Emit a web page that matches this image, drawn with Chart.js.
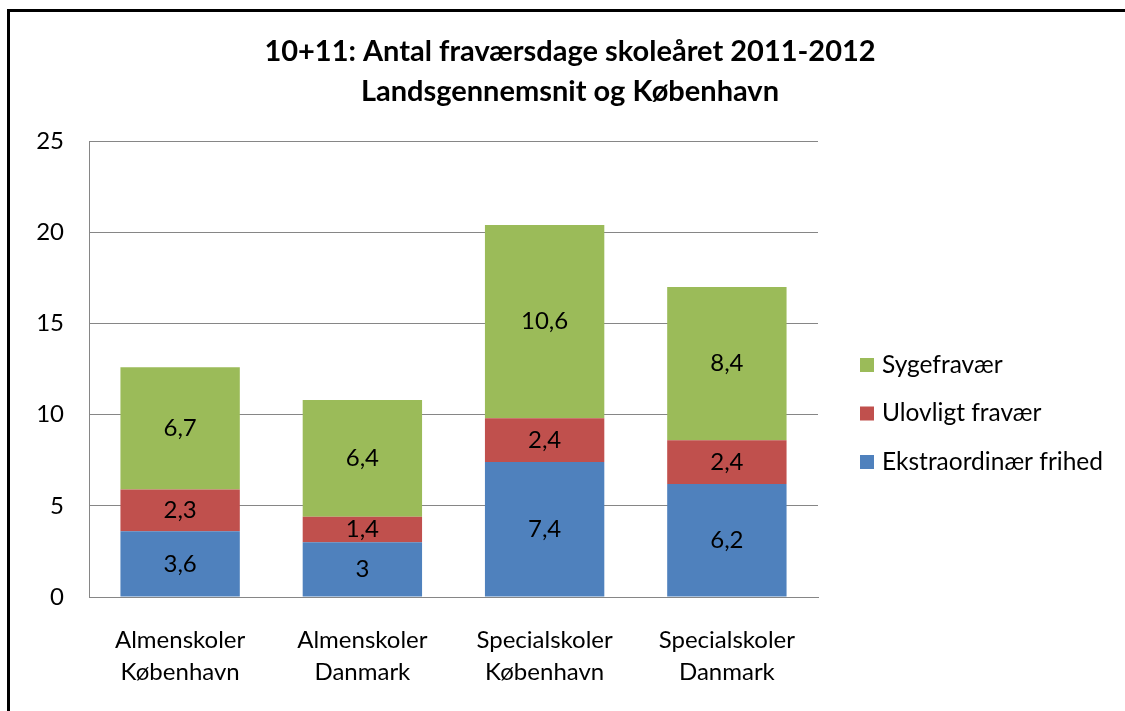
<!DOCTYPE html>
<html>
<head>
<meta charset="utf-8">
<script src="https://cdn.jsdelivr.net/npm/chart.js@4/dist/chart.umd.min.js"></script>
<style>
    html, body { margin: 0; padding: 0; background: #fff; }
    #wrap { position: relative; width: 1125px; height: 711px; overflow: hidden; }
    #frame { position: absolute; left: 7px; top: 9px; width: 1200px; height: 800px;
             border-left: 3px solid #000; border-top: 3px solid #000; pointer-events: none; }
    canvas { position: absolute; left: 0; top: 0; }
</style>
</head>
<body>
<div id="wrap">
    <canvas id="chart" width="1125" height="711"></canvas>
    <div id="frame"></div>
</div>
<script>
    // Data
    const titleLines = ['10+11: Antal fraværsdage skoleåret 2011-2012', 'Landsgennemsnit og København'];
    const categories = [
        ['Almenskoler', 'København'],
        ['Almenskoler', 'Danmark'],
        ['Specialskoler', 'København'],
        ['Specialskoler', 'Danmark']
    ];
    const seriesNames = ['Ekstraordinær frihed', 'Ulovligt fravær', 'Sygefravær'];
    const seriesColors = ['#4F81BD', '#C0504D', '#9BBB59'];
    const ekstraordinaer = [3.6, 3, 7.4, 6.2];
    const ulovligt = [2.3, 1.4, 2.4, 2.4];
    const syge = [6.7, 6.4, 10.6, 8.4];
    const yTicks = [0, 5, 10, 15, 20, 25];

    const FONT = 'Lato, "Noto Sans", sans-serif';
    const fmt = v => String(v).replace('.', ',');

    // Tegner titel, værdier i søjlerne og forklaring
    const decorPlugin = {
        id: 'decor',
        afterDatasetsDraw(chart) {
            const ctx = chart.ctx;
            ctx.save();
            ctx.fillStyle = '#000';
            ctx.textAlign = 'center';
            ctx.textBaseline = 'middle';
            ctx.font = '24px ' + FONT;
            chart.data.datasets.forEach((ds, i) => {
                const meta = chart.getDatasetMeta(i);
                meta.data.forEach((bar, j) => {
                    const p = bar.getProps(['x', 'y', 'base'], true);
                    ctx.fillText(fmt(ds.data[j]), p.x, (p.y + p.base) / 2);
                });
            });
            ctx.restore();
        },
        afterDraw(chart) {
            const ctx = chart.ctx;
            ctx.save();
            // titel
            ctx.fillStyle = '#000';
            ctx.textAlign = 'center';
            ctx.textBaseline = 'middle';
            ctx.font = 'bold 29px ' + FONT;
            titleLines.forEach((t, i) => ctx.fillText(t, 570, 52 + i * 40));
            // forklaring (omvendt rækkefølge som i Excel)
            ctx.textAlign = 'left';
            ctx.font = '24.5px ' + FONT;
            const n = chart.data.datasets.length;
            for (let k = 0; k < n; k++) {
                const ds = chart.data.datasets[n - 1 - k];
                const cy = 365 + k * 48.5;
                ctx.fillStyle = ds.backgroundColor;
                ctx.fillRect(860, cy - 7, 14, 14);
                ctx.fillStyle = '#000';
                ctx.fillText(ds.label, 882, cy);
            }
            ctx.restore();
        }
    };

    const seriesData = [ekstraordinaer, ulovligt, syge];

    new Chart(document.getElementById('chart').getContext('2d'), {
        type: 'bar',
        data: {
            labels: categories,
            datasets: seriesNames.map((name, i) => ({
                label: name,
                data: seriesData[i],
                backgroundColor: seriesColors[i],
                borderWidth: 0,
                categoryPercentage: 1,
                barPercentage: 0.655
            }))
        },
        options: {
            responsive: false,
            animation: false,
            layout: { padding: { top: 141, right: 307, bottom: 0, left: 0 } },
            plugins: {
                legend: { display: false },
                title: { display: false },
                tooltip: { enabled: false }
            },
            scales: {
                x: {
                    stacked: true,
                    afterFit: s => { s.height = 114; },
                    grid: { display: false, drawTicks: false },
                    border: { display: true, color: '#868686', width: 1 },
                    ticks: {
                        color: '#000',
                        padding: 27,
                        maxRotation: 0,
                        font: { family: FONT, size: 24, lineHeight: 1.34 }
                    }
                },
                y: {
                    stacked: true,
                    min: 0,
                    max: 25,
                    afterFit: s => { s.width = 89; },
                    afterBuildTicks: s => { s.ticks = yTicks.map(v => ({ value: v })); },
                    grid: { color: '#868686', drawTicks: false },
                    border: { display: true, color: '#868686', width: 1 },
                    ticks: {
                        color: '#000',
                        padding: 25,
                        font: { family: FONT, size: 24 }
                    }
                }
            }
        },
        plugins: [decorPlugin]
    });
</script>
</body>
</html>
